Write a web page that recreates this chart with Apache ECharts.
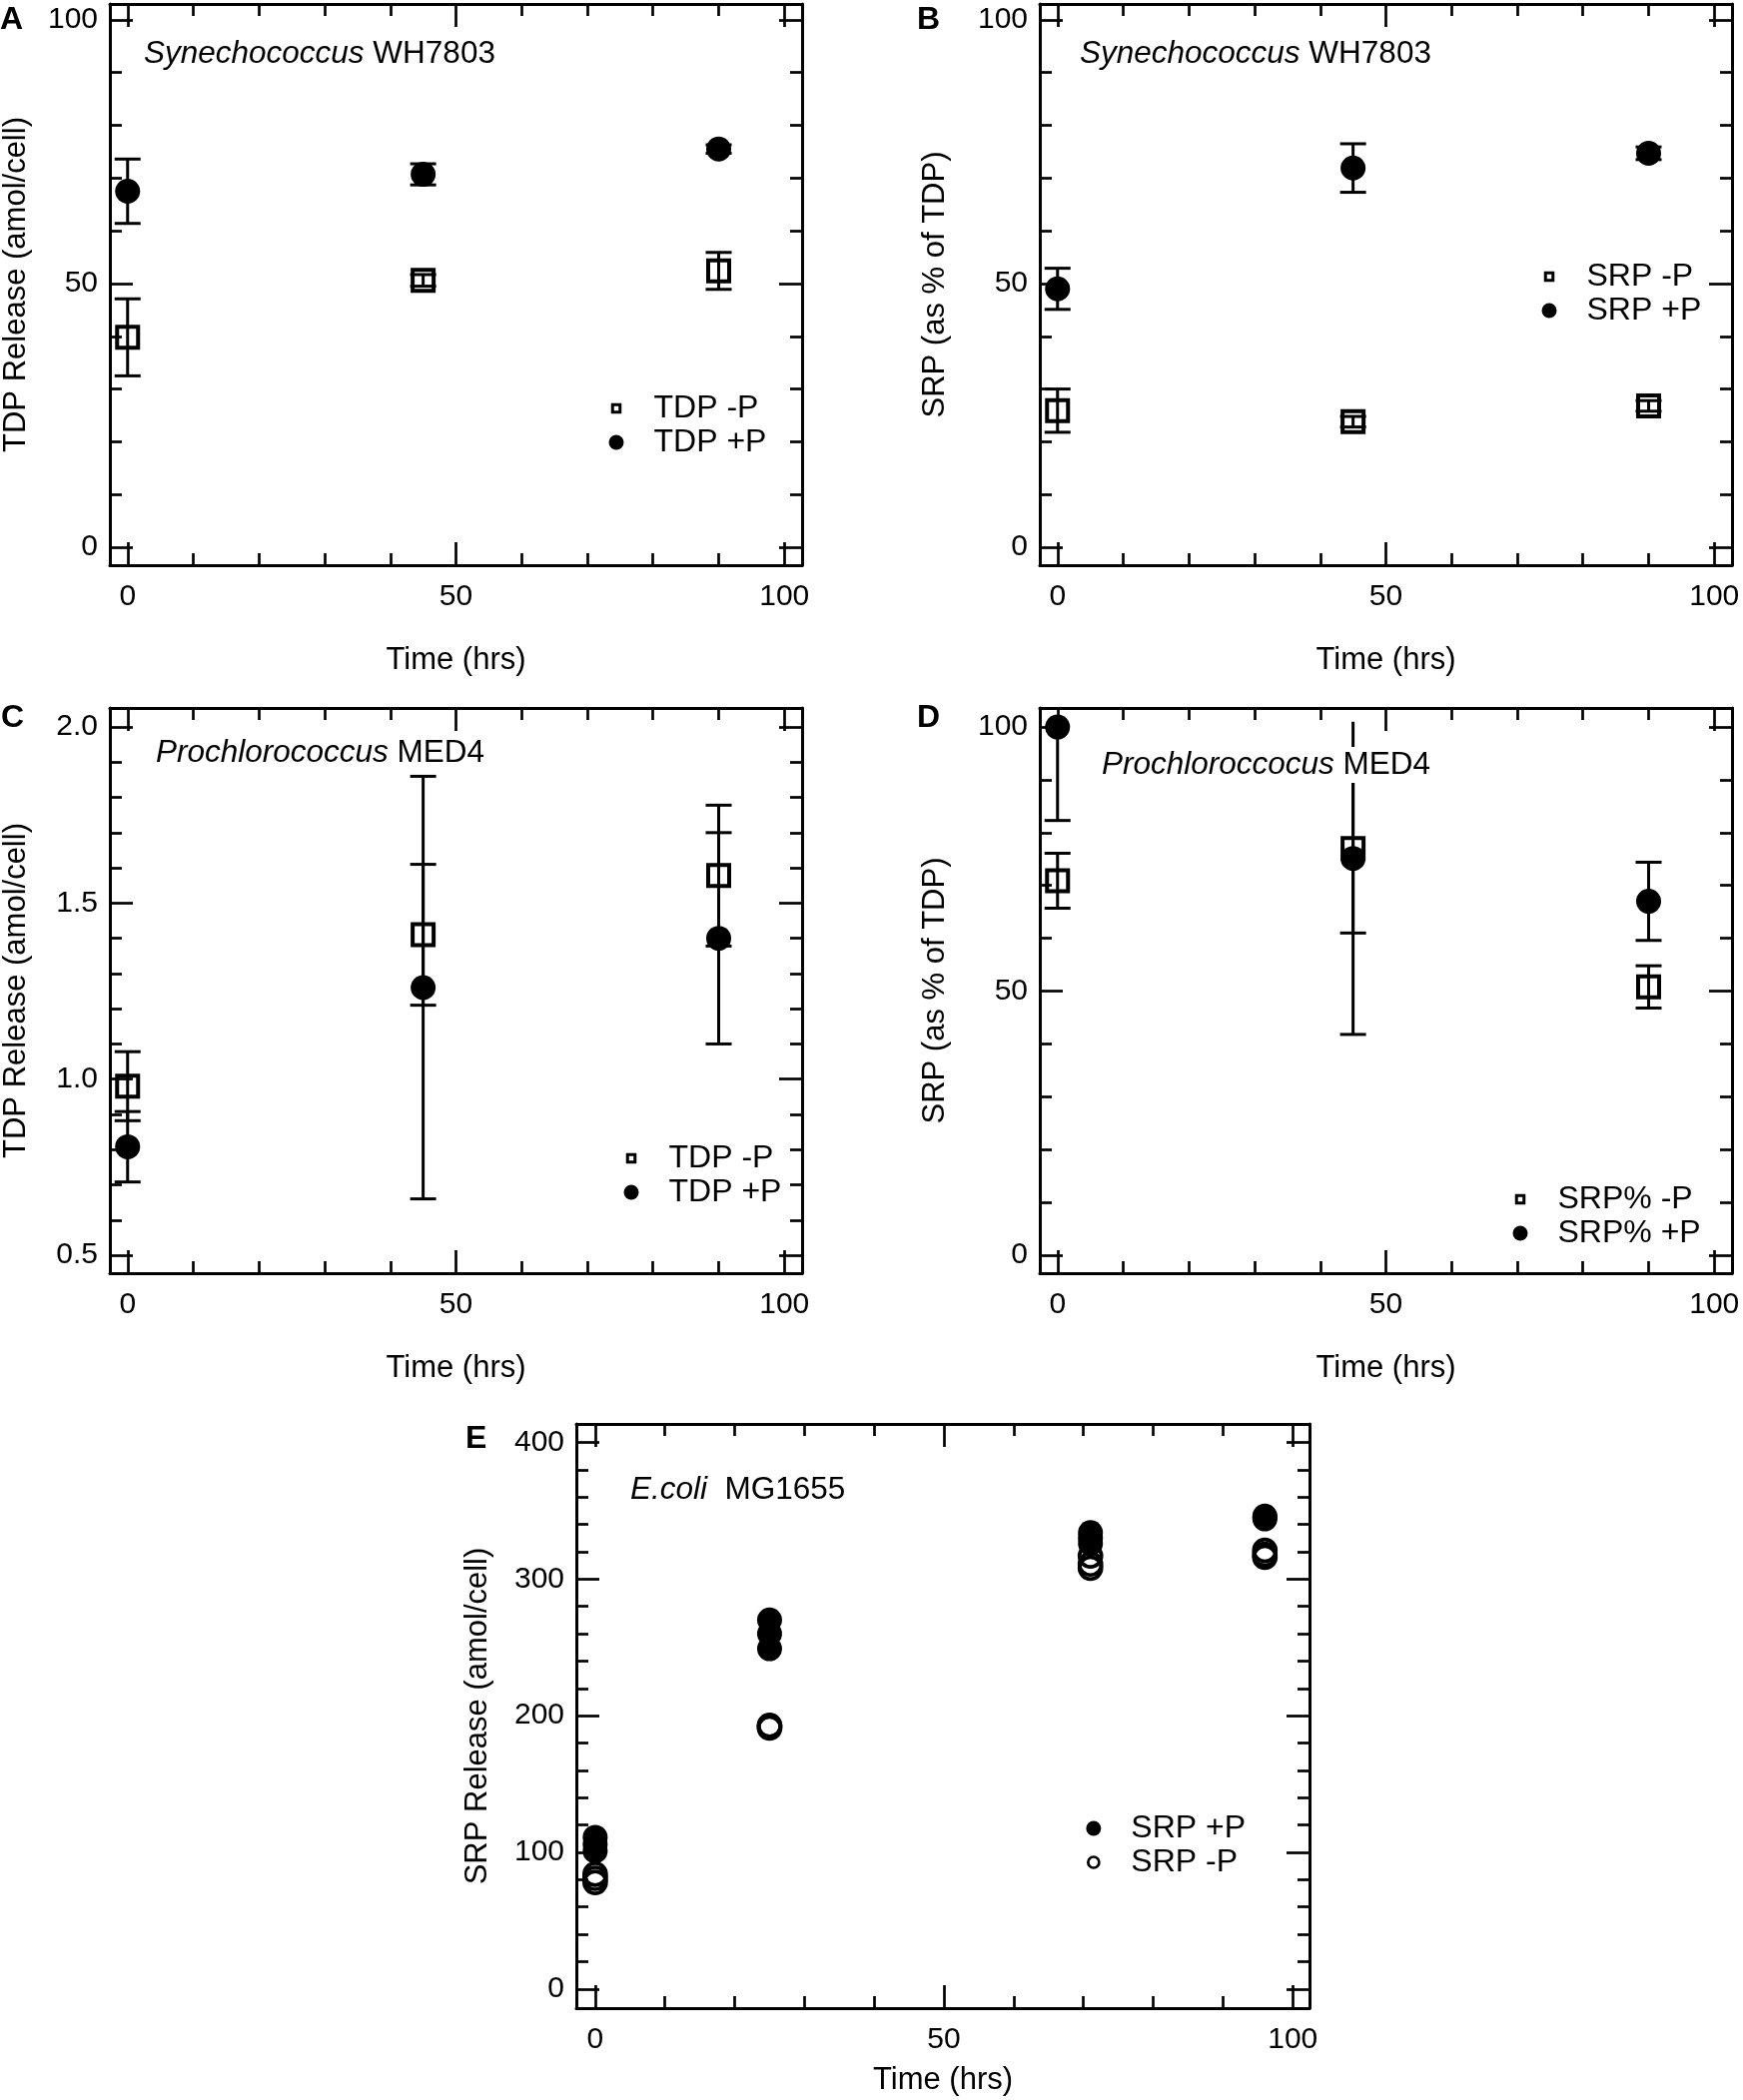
<!DOCTYPE html>
<html>
<head>
<meta charset="utf-8">
<script src="https://cdn.jsdelivr.net/npm/echarts@6.0.0/dist/echarts.min.js"></script>
<style>
html, body { margin: 0; padding: 0; background: #fff; }
#container { width: 1745px; height: 2103px; }
</style>
</head>
<body>
<div id="container"></div>
<script>
// sampling times (hrs)
var hrs = [0, 45, 90];

// A: Synechococcus WH7803, TDP release (amol/cell)
var tdpMinusA = [39.8, 50.6, 52.4];
var tdpMinusErrA = [7.3, 1.1, 3.5];
var tdpPlusA = [67.5, 70.7, 75.5];
var tdpPlusErrA = [6.1, 2.0, 0.8];

// B: Synechococcus WH7803, SRP as % of TDP
var srpMinusB = [25.9, 23.8, 26.8];
var srpMinusErrB = [4.1, 1.0, 1.0];
var srpPlusB = [49.0, 71.9, 74.7];
var srpPlusErrB = [3.9, 4.6, 1.2];

// C: Prochlorococcus MED4, TDP release (amol/cell)
var tdpMinusC = [0.98, 1.41, 1.578];
var tdpMinusErrC = [0.098, 0.2, 0.2];
var tdpPlusC = [0.808, 1.26, 1.40];
var tdpPlusErrC = [0.1, 0.6, 0.3];

// D: Prochlorococcus MED4, SRP as % of TDP
var srpMinusD = [70.9, 77.0, 50.8];
var srpMinusErrD = [5.2, 16, 4];
var srpPlusD = [100, 75.1, 67.0];
var srpPlusErrD = [17.7, 33.3, 7.4];

// E: E.coli MG1655, replicate SRP release (amol/cell)
var timeE = [0, 0, 0, 25, 25, 25, 71, 71, 71, 96, 96, 96];
var srpPlusE = [111, 106, 101, 270, 260, 249, 334, 330, 326, 346, 345, 344];
var srpMinusE = [84, 81, 78, 193, 192, 191, 317, 311, 308, 321, 318, 316];

// tick values
var xMajor = [0, 50, 100];
var xMinor = [10, 20, 30, 40, 60, 70, 80, 90];
var pctMajor = [0, 50, 100];
var pctMinor = [10, 20, 30, 40, 60, 70, 80, 90];
var tdpCMajor = [0.5, 1.0, 1.5, 2.0];
var tdpCMinor = [0.6, 0.7, 0.8, 0.9, 1.1, 1.2, 1.3, 1.4, 1.6, 1.7, 1.8, 1.9];
var srpEMajor = [0, 100, 200, 300, 400];
var srpEMinor = [20, 40, 60, 80, 120, 140, 160, 180, 220, 240, 260, 280, 320, 340, 360, 380];

var FONT = '"Liberation Sans", Arial, Helvetica, sans-serif';
var SQUARE_ICON = 'path://M0,0M15,15M3.75,3.75h7.5v7.5h-7.5z';

var panels = [
	{
		letter: 'A', letterPos: [0, 4],
		species: '{i|Synechococcus} WH7803', speciesPos: [141, 36],
		grid: [110, 4, 693, 562], x: [-2.7, 102.7], y: [-3.4, 103.0],
		yMajor: pctMajor, yMinor: pctMinor, yFmt: 0,
		yName: 'TDP Release (amol/cell)', yGap: 78, xGap: 80, clipTop: 1000,
		legendPos: [608, 393],
		sets: [
			{ name: 'A|TDP -P', kind: 'square', xs: hrs, ys: tdpMinusA, err: tdpMinusErrA },
			{ name: 'A|TDP +P', kind: 'dot', xs: hrs, ys: tdpPlusA, err: tdpPlusErrA }
		]
	},
	{
		letter: 'B', letterPos: [918, 4],
		species: '{i|Synechococcus} WH7803', speciesPos: [1078, 36],
		grid: [1041, 4, 693, 562], x: [-2.7, 102.7], y: [-3.4, 103.0],
		yMajor: pctMajor, yMinor: pctMinor, yFmt: 0,
		yName: 'SRP (as % of TDP)', yGap: 89, xGap: 80, clipTop: 1000,
		legendPos: [1542, 261],
		sets: [
			{ name: 'B|SRP -P', kind: 'square', xs: hrs, ys: srpMinusB, err: srpMinusErrB },
			{ name: 'B|SRP +P', kind: 'dot', xs: hrs, ys: srpPlusB, err: srpPlusErrB }
		]
	},
	{
		letter: 'C', letterPos: [1, 703],
		species: '{i|Prochlorococcus} MED4', speciesPos: [153, 736],
		grid: [110, 709, 693, 566], x: [-2.7, 102.7], y: [0.449, 2.054],
		yMajor: tdpCMajor, yMinor: tdpCMinor, yFmt: 1,
		yName: 'TDP Release (amol/cell)', yGap: 78, xGap: 80, clipTop: 1000,
		legendPos: [623, 1144],
		sets: [
			{ name: 'C|TDP -P', kind: 'square', xs: hrs, ys: tdpMinusC, err: tdpMinusErrC },
			{ name: 'C|TDP +P', kind: 'dot', xs: hrs, ys: tdpPlusC, err: tdpPlusErrC }
		]
	},
	{
		letter: 'D', letterPos: [918, 703],
		species: '{i|Prochloroccocus} MED4', speciesPos: [1100, 748], speciesBg: true,
		grid: [1041, 709, 693, 566], x: [-2.7, 102.7], y: [-3.4, 103.6],
		yMajor: pctMajor, yMinor: pctMinor, yFmt: 0,
		yName: 'SRP (as % of TDP)', yGap: 89, xGap: 80, clipTop: 101,
		legendPos: [1513, 1185],
		sets: [
			{ name: 'D|SRP% -P', kind: 'square', xs: hrs, ys: srpMinusD, err: srpMinusErrD },
			{ name: 'D|SRP% +P', kind: 'dot', xs: hrs, ys: srpPlusD, err: srpPlusErrD }
		]
	},
	{
		letter: 'E', letterPos: [466, 1425],
		species: '{i|E.coli}  MG1655', speciesPos: [628, 1474],
		grid: [577, 1426, 734, 585], x: [-2.7, 102.4], y: [-14, 413.5],
		yMajor: srpEMajor, yMinor: srpEMinor, yFmt: 0,
		yName: 'SRP Release (amol/cell)', yGap: 83, xGap: 57, clipTop: 1000,
		legendPos: [1086, 1815],
		sets: [
			{ name: 'E|SRP +P', kind: 'dot', xs: timeE, ys: srpPlusE },
			{ name: 'E|SRP -P', kind: 'ring', xs: timeE, ys: srpMinusE }
		]
	}
];

function makeAxis(g, range, pos, ticks, len, showLine, lab) {
	var a = {
		type: 'value', gridIndex: g, min: range[0], max: range[1], position: pos,
		axisLine: { show: showLine, onZero: false, lineStyle: { color: '#000', width: 3 } },
		axisTick: { show: true, inside: true, length: len, customValues: ticks, lineStyle: { color: '#000', width: 2.7 } },
		axisLabel: { show: false },
		splitLine: { show: false },
		minorTick: { show: false }
	};
	if (lab) {
		a.axisLabel = {
			show: true, customValues: lab.values, margin: lab.margin,
			fontSize: 30, color: '#000', fontFamily: FONT,
			formatter: function (v) { return Number(v).toFixed(lab.fmt); }
		};
		a.name = lab.name;
		a.nameLocation = 'middle';
		a.nameGap = lab.nameGap;
		if (lab.rotate) a.nameRotate = 90;
		a.nameTextStyle = { fontSize: 31, color: '#000', fontFamily: FONT };
	}
	return a;
}

var grids = [], xAxes = [], yAxes = [], series = [], legends = [], titles = [];

panels.forEach(function (p, g) {
	grids.push({ left: p.grid[0], top: p.grid[1], width: p.grid[2], height: p.grid[3] });
	var xi = xAxes.length, yi = yAxes.length;
	xAxes.push(makeAxis(g, p.x, 'bottom', xMajor, 23, true,
		{ values: xMajor, margin: 17, fmt: 0, name: 'Time (hrs)', nameGap: p.xGap }));
	xAxes.push(makeAxis(g, p.x, 'bottom', xMinor, 12, false));
	xAxes.push(makeAxis(g, p.x, 'top', xMajor, 23, true));
	xAxes.push(makeAxis(g, p.x, 'top', xMinor, 12, false));
	yAxes.push(makeAxis(g, p.y, 'left', p.yMajor, 23, true,
		{ values: p.yMajor, margin: 12, fmt: p.yFmt, name: p.yName, nameGap: p.yGap, rotate: true }));
	yAxes.push(makeAxis(g, p.y, 'left', p.yMinor, 12, false));
	yAxes.push(makeAxis(g, p.y, 'right', p.yMajor, 23, true));
	yAxes.push(makeAxis(g, p.y, 'right', p.yMinor, 12, false));

	// error bars first, so the markers sit on top
	p.sets.forEach(function (s) {
		if (!s.err) return;
		var clipTop = p.clipTop;
		series.push({
			type: 'custom', xAxisIndex: xi, yAxisIndex: yi, z: 2, silent: true,
			data: s.xs.map(function (t, i) { return [t, s.ys[i] - s.err[i], s.ys[i] + s.err[i]]; }),
			renderItem: function (params, api) {
				var x = api.value(0), lo = api.value(1), hi = api.value(2);
				var top = Math.min(hi, clipTop);
				var p0 = api.coord([x, lo]), p1 = api.coord([x, top]);
				var st = { stroke: '#000', lineWidth: 3 };
				var kids = [
					{ type: 'line', shape: { x1: p0[0], y1: p0[1], x2: p1[0], y2: p1[1] }, style: st },
					{ type: 'line', shape: { x1: p0[0] - 13, y1: p0[1], x2: p0[0] + 13, y2: p0[1] }, style: st }
				];
				if (hi <= clipTop) {
					kids.push({ type: 'line', shape: { x1: p1[0] - 13, y1: p1[1], x2: p1[0] + 13, y2: p1[1] }, style: st });
				}
				return { type: 'group', children: kids };
			}
		});
	});

	// squares under dots in A-D; in E the open rings go over the dots
	var order = p.sets.slice().sort(function (a, b) { return (a.kind === 'dot') - (b.kind === 'dot'); });
	if (g === 4) order = p.sets.slice();
	order.forEach(function (s) {
		var ser = {
			name: s.name, type: 'scatter', xAxisIndex: xi, yAxisIndex: yi, z: 3,
			data: s.xs.map(function (t, i) { return [t, s.ys[i]]; })
		};
		if (s.kind === 'square') {
			ser.symbol = 'rect'; ser.symbolSize = 21;
			ser.itemStyle = { color: 'rgba(0,0,0,0)', borderColor: '#000', borderWidth: 4, opacity: 1 };
		} else if (s.kind === 'ring') {
			ser.symbol = 'circle'; ser.symbolSize = 22;
			ser.itemStyle = { color: 'rgba(0,0,0,0)', borderColor: '#000', borderWidth: 3.7, opacity: 1 };
		} else {
			ser.symbol = 'circle'; ser.symbolSize = 25;
			ser.itemStyle = { color: '#000', borderWidth: 0, opacity: 1 };
		}
		series.push(ser);
	});

	var legendData = [];
	p.sets.forEach(function (s) {
		var d = { name: s.name };
		if (s.kind === 'square') {
			d.icon = SQUARE_ICON;
			d.itemStyle = { color: '#fff', borderColor: '#000', borderWidth: 3, opacity: 1 };
		} else if (s.kind === 'ring') {
			d.icon = 'path://M0,0M15,15M7.5,2a5.5,5.5 0 1,0 0.01,0z';
			d.itemStyle = { color: '#fff', borderColor: '#000', borderWidth: 2.7, opacity: 1 };
		} else {
			d.icon = 'circle';
			d.itemStyle = { color: '#000', borderWidth: 0, opacity: 1 };
		}
		legendData.push(d);
	});

	legends.push({
		left: p.legendPos[0], top: p.legendPos[1], orient: 'vertical', padding: 0,
		itemWidth: 15, itemHeight: 15, itemGap: 2, selectedMode: false,
		textStyle: { fontSize: 32, color: '#000', fontFamily: FONT, padding: [0, 0, 0, 25] },
		formatter: function (n) { return n.split('|')[1]; },
		data: legendData
	});

	titles.push({
		text: p.letter, left: p.letterPos[0], top: p.letterPos[1], padding: 0,
		textStyle: { fontSize: 32, fontWeight: 'bold', color: '#000', fontFamily: FONT }
	});
	titles.push({
		text: p.species, left: p.speciesPos[0], top: p.speciesPos[1],
		padding: [2, 3], backgroundColor: p.speciesBg ? '#fff' : 'transparent', z: 10,
		textStyle: {
			fontSize: 31.5, fontWeight: 'normal', color: '#000', fontFamily: FONT,
			rich: { i: { fontStyle: 'italic', fontSize: 31.5, color: '#000', fontFamily: FONT } }
		}
	});
});

var myChart = echarts.init(document.getElementById('container'), null, { renderer: 'canvas' });
myChart.setOption({
	backgroundColor: '#fff',
	animation: false,
	title: titles,
	legend: legends,
	grid: grids,
	xAxis: xAxes,
	yAxis: yAxes,
	series: series
});
</script>
</body>
</html>
